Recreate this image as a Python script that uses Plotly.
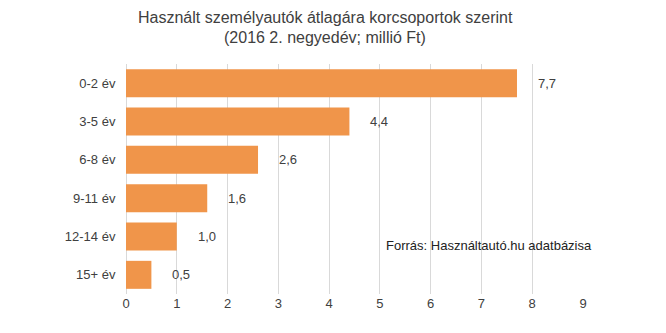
import plotly.graph_objects as go

categories = ["0-2 év", "3-5 év", "6-8 év", "9-11 év", "12-14 év", "15+ év"]
values = [7.7, 4.4, 2.6, 1.6, 1.0, 0.5]
tick_values = list(range(0, 10))

title_lines = ["Használt személyautók átlagára korcsoportok szerint",
               "(2016 2. negyedév; millió Ft)"]
source_text = "Forrás: Használtautó.hu adatbázisa"

font_family = "Liberation Sans, Arial, sans-serif"
text_color = "#404040"
bar_color = "#F0954A"
grid_color = "#D9D9D9"

W, H = 666, 333
M_L, M_R, M_T, M_B = 126, 83, 64, 39
plot_w = W - M_L - M_R
plot_h = H - M_T - M_B


def px_x(px):
    return (px - M_L) / plot_w


def px_y(py):
    return (H - M_B - py) / plot_h


fig = go.Figure()
fig.add_trace(go.Bar(
    x=values,
    y=categories,
    orientation="h",
    marker=dict(color=bar_color, line=dict(width=0)),
    width=0.73,
    hoverinfo="skip",
))

# value labels, comma decimal separator
for cat, val in zip(categories, values):
    fig.add_annotation(
        x=val, y=cat, xref="x", yref="y",
        text=f"{val:.1f}".replace(".", ","),
        showarrow=False, xanchor="left", yanchor="middle",
        xshift=19,
        font=dict(family=font_family, size=13, color=text_color),
    )

# two-line heading
for line, py in zip(title_lines, [17, 37]):
    fig.add_annotation(
        x=px_x(325), y=px_y(py), xref="paper", yref="paper",
        text=line, showarrow=False, xanchor="center", yanchor="middle",
        font=dict(family=font_family, size=16, color=text_color),
    )

fig.add_annotation(
    x=px_x(489), y=px_y(245), xref="paper", yref="paper",
    text=source_text, showarrow=False, xanchor="center", yanchor="middle",
    font=dict(family=font_family, size=13, color="#222222"),
)

fig.update_layout(
    width=W, height=H,
    margin=dict(l=M_L, r=M_R, t=M_T, b=M_B),
    paper_bgcolor="white", plot_bgcolor="white",
    showlegend=False,
    xaxis=dict(
        range=[0, 9], tickvals=tick_values,
        showgrid=True, gridcolor=grid_color, gridwidth=1,
        zeroline=True, zerolinecolor=grid_color, zerolinewidth=1,
        showline=False, ticks="",
        tickfont=dict(family=font_family, size=13, color=text_color),
        fixedrange=True,
    ),
    yaxis=dict(
        autorange="reversed", categoryorder="array", categoryarray=categories,
        showgrid=False, showline=False, ticks="outside", ticklen=7,
        tickcolor="rgba(0,0,0,0)",
        tickfont=dict(family=font_family, size=13, color=text_color),
        fixedrange=True,
    ),
)

fig.write_html("out.html")
